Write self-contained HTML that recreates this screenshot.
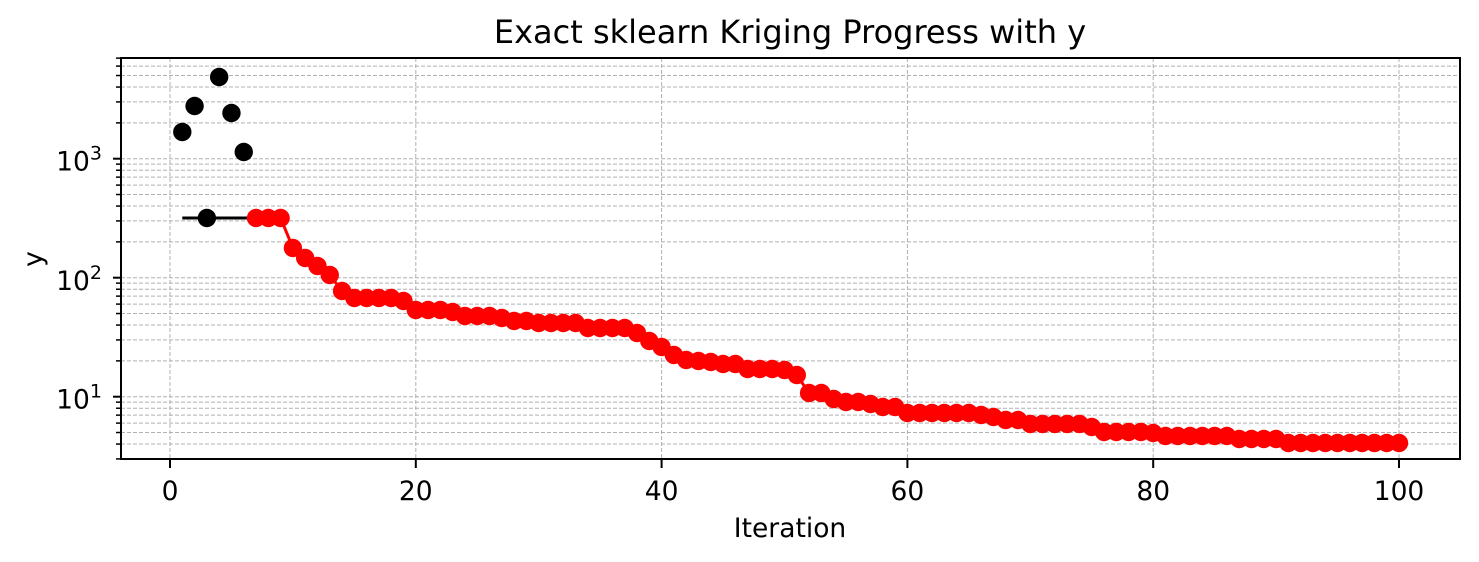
<!DOCTYPE html>
<html><head><meta charset="utf-8"><style>
body{margin:0;background:#fff}
svg{display:block;font-family:"DejaVu Sans","Liberation Sans",sans-serif}
</style></head><body>
<svg id="s" width="1479" height="562" xmlns="http://www.w3.org/2000/svg"></svg>
<script>
const s=document.getElementById('s');
const L=121,R=1460,T=58,B=459;
const X=v=>170+v*12.29;
const Y=v=>158.7-(Math.log10(v)-3)*119;
let h='<rect width="1479" height="562" fill="#fff"/>';
for(let d=0;d<=3;d++)for(let m=1;m<10;m++){const v=m*Math.pow(10,d);const y=Y(v);if(y<T-1||y>B+1)continue;
h+=`<line x1="${L}" x2="${R}" y1="${y}" y2="${y}" stroke="#b0b0b0" stroke-width="1" stroke-dasharray="4,2"/>`;
h+=`<line x1="${L-(m==1?8:5)}" x2="${L}" y1="${y}" y2="${y}" stroke="#000" stroke-width="${m==1?2:1.5}"/>`;}
for(let i=0;i<=100;i+=20){const x=X(i);
h+=`<line x1="${x}" x2="${x}" y1="${T}" y2="${B}" stroke="#b0b0b0" stroke-width="1" stroke-dasharray="4,2"/>`;
h+=`<line x1="${x}" x2="${x}" y1="${B}" y2="${B+9}" stroke="#000" stroke-width="2"/>`;
h+=`<text x="${x}" y="500" font-size="26.5" text-anchor="middle">${i}</text>`;}
[[3,158.7],[2,278],[1,396.7]].forEach(([e,y])=>{h+=`<text x="102" y="${y+12}" font-size="26.5" text-anchor="end">10<tspan dy="-11" font-size="19">${e}</tspan></text>`;});
const red={7:218,8:218,9:218,10:248,11:258,12:266,13:275,14:291,15:298,16:298,17:298,18:298,19:301,20:310,21:310,22:310,23:312,24:316,25:316,26:316,27:318,28:321,29:321,30:323,31:323,32:323,33:323,34:328,35:328,36:328,37:328,38:333,39:341,40:347,41:355,42:360,43:361,44:362,45:364,46:364,47:369,48:369,49:369,50:370,51:375,52:393,53:393,54:399,55:402,56:402,57:404,58:407,59:407,60:413,61:413,62:413,63:413,64:413,65:413,66:415,67:417,68:420,69:420,70:424,71:424,72:424,73:424,74:424,75:427,76:432,77:432,78:432,79:432,80:433,81:436,82:436,83:436,84:436,85:436,86:436,87:439,88:439,89:439,90:439};
for(let i=91;i<=100;i++)red[i]=443;
h+=`<line x1="${X(1)}" x2="${X(7)}" y1="218" y2="218" stroke="#000" stroke-width="3"/>`;
[[1,132],[2,106],[3,218],[4,77],[5,113],[6,152]].forEach(([i,y])=>h+=`<circle cx="${X(i)}" cy="${y}" r="9.2" fill="#000"/>`);
let pts=Object.keys(red).map(k=>`${X(+k)},${red[k]}`).join(' ');
h+=`<polyline points="${pts}" fill="none" stroke="#f00" stroke-width="3"/>`;
Object.keys(red).forEach(k=>h+=`<circle cx="${X(+k)}" cy="${red[k]}" r="9.2" fill="#f00"/>`);
h+=`<rect x="${L}" y="${T}" width="${R-L}" height="${B-T}" fill="none" stroke="#000" stroke-width="2"/>`;
h+=`<text x="790" y="43" font-size="32" text-anchor="middle">Exact sklearn Kriging Progress with y</text>`;
h+=`<text x="790" y="537" font-size="26.5" text-anchor="middle">Iteration</text>`;
h+=`<text x="0" y="0" font-size="26.5" text-anchor="middle" transform="translate(42 259) rotate(-90)">y</text>`;
s.innerHTML=h;
</script>
</body></html>
